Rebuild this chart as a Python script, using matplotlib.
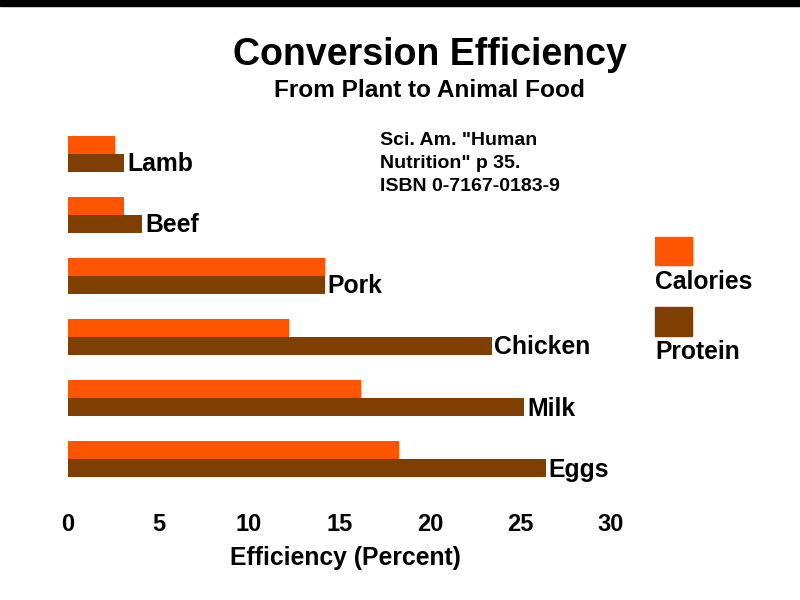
import numpy as np
import matplotlib
matplotlib.use('Agg')
import matplotlib.pyplot as plt
from matplotlib.patches import Rectangle

# Data (percent efficiency)
foods = ['Eggs', 'Milk', 'Chicken', 'Pork', 'Beef', 'Lamb']
calories = [18.3, 16.2, 12.2, 14.2, 3.1, 2.6]
protein = [26.4, 25.2, 23.4, 14.2, 4.1, 3.1]
xticks = [0, 5, 10, 15, 20, 25, 30]
note_lines = ['Sci. Am. "Human', 'Nutrition" p 35.', 'ISBN 0-7167-0183-9']

orange = '#FF5500'
brown = '#7F3F00'

plt.rcParams['font.family'] = ['Liberation Sans', 'DejaVu Sans']

fig = plt.figure(figsize=(8, 6), dpi=100)
ax = fig.add_axes([68 / 800, 1 - 502 / 600, 543 / 800, (502 - 117) / 600])

y = np.arange(len(foods))
h = 0.295
ax.barh(y + h / 2, calories, height=h, color=orange, linewidth=0)
ax.barh(y - h / 2, protein, height=h, color=brown, linewidth=0)

# category labels at the end of the protein bar
for yi, val, name in zip(y, protein, foods):
    ax.annotate(name, (val, yi - h / 2), xytext=(2, -1), textcoords='offset points',
                ha='left', va='center', fontsize=17.8, fontweight='bold')

ax.set_xlim(0, 30)
ax.set_ylim(-0.7, 5.6)
ax.set_xticks(xticks)
ax.set_xticklabels([str(t) for t in xticks], fontsize=17, fontweight='bold')
ax.set_yticks([])
ax.tick_params(axis='x', length=0, pad=8)
for s in ax.spines.values():
    s.set_visible(False)
ax.set_xlabel('Efficiency (Percent)', fontsize=17.8, fontweight='bold', labelpad=8)
ax.xaxis.set_label_coords((345 - 68) / 543, -0.115)

# titles
fig.text(430 / 800, 1 - 55 / 600, 'Conversion Efficiency', ha='center', va='center',
         fontsize=27, fontweight='bold')
fig.text(429 / 800, 1 - 91 / 600, 'From Plant to Animal Food', ha='center', va='center',
         fontsize=17.6, fontweight='bold')

# source note
fig.text(380 / 800, 1 - 132 / 600, '\n'.join(note_lines), ha='left', va='top',
         fontsize=14, fontweight='bold', linespacing=1.45)

# legend, squares above the text
fig.patches.append(Rectangle((655 / 800, 1 - 265 / 600), 37 / 800, 28 / 600,
                             transform=fig.transFigure, color=orange, figure=fig))
fig.patches.append(Rectangle((655 / 800, 1 - 336 / 600), 37 / 800, 29 / 600,
                             transform=fig.transFigure, color=brown, figure=fig))
fig.text(655 / 800, 1 - 282 / 600, 'Calories', ha='left', va='center',
         fontsize=17.7, fontweight='bold')
fig.text(655 / 800, 1 - 352 / 600, 'Protein', ha='left', va='center',
         fontsize=17.7, fontweight='bold')

# black band along the top
fig.patches.append(Rectangle((0, 1 - 6 / 600), 1, 6 / 600,
                             transform=fig.transFigure, color='black', figure=fig))

plt.savefig('out.png', dpi=100)
